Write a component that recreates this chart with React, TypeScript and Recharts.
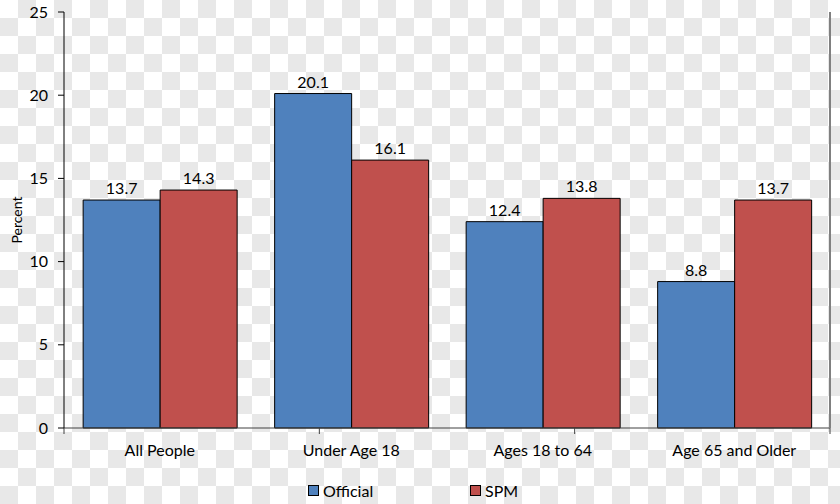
import { Bar, BarChart, LabelList, Legend, ReferenceArea, ReferenceLine, XAxis, YAxis } from "recharts";

const groups = ["All People", "Under Age 18", "Ages 18 to 64", "Age 65 and Older"];
const official = [13.7, 20.1, 12.4, 8.8];
const spm = [14.3, 16.1, 13.8, 13.7];
const yTicks = [0, 5, 10, 15, 20, 25];
const groupEdges = [0, 1, 2, 3, 4];

const data = groups.map((group, i) => ({ group, official: official[i], spm: spm[i] }));

const BLUE = "#4F81BD";
const RED = "#C0504D";
const FONT = "Lato, 'Open Sans', sans-serif";

const tickStyle = { fill: "#000", fontSize: 16, fontFamily: FONT };

// small outward tick at each category boundary, like Excel
function EdgeTick(props: any) {
	const { x1, y1, y2 } = props;
	const bottom = Math.max(y1, y2);
	return <line x1={x1} x2={x1} y1={bottom} y2={bottom + 6} stroke="#404040" strokeWidth={1} />;
}

// transparent-png checkerboard drawn behind the whole chart
function Checker() {
	const cells = [];
	for (let r = 0; r < 28; r++) {
		for (let c = 0; c < 47; c++) {
			if ((r + c) % 2 === 1) cells.push(<rect key={`${r}-${c}`} x={c * 18} y={r * 18} width={18} height={18} fill="#e8e8e8" />);
		}
	}
	return <g>{cells}</g>;
}

function LegendBox() {
	const item = (color: string, text: string, left: number) => (
		<div style={{ position: "absolute", left, top: 5, display: "flex", alignItems: "center" }}>
			<span
				style={{
					display: "inline-block",
					width: 9,
					height: 9,
					background: color,
					border: "1px solid #000",
					marginRight: 4,
				}}
			/>
			<span style={{ fontFamily: FONT, fontSize: 16, color: "#000" }}>{text}</span>
		</div>
	);
	return (
		<div style={{ position: "relative", width: 840, height: 28 }}>
			{item(BLUE, "Official", 308)}
			{item(RED, "SPM", 470)}
		</div>
	);
}

export default function App() {
	return (
		<div style={{ position: "absolute", left: 0, top: 0, width: 840, height: 504, background: "#ffffff" }}>
			<BarChart
				width={840}
				height={504}
				data={data}
				margin={{ top: 12, right: 0, left: 0, bottom: 0 }}
				barCategoryGap="10%"
				barGap={0}
			>
				<ReferenceArea
					xAxisId="edges"
					x1={0}
					x2={4}
					y1={0}
					y2={25}
					ifOverflow="visible"
					shape={() => <Checker />}
				/>
				<XAxis
					dataKey="group"
					height={48}
					tickLine={false}
					tickMargin={11}
					axisLine={{ stroke: "#404040" }}
					tick={tickStyle}
					interval={0}
				/>
				<XAxis xAxisId="edges" type="number" domain={[0, 4]} hide />
				<YAxis
					width={64}
					domain={[0, 25]}
					ticks={yTicks}
					tickSize={6}
					tickMargin={10}
					tickLine={{ stroke: "#000" }}
					axisLine={{ stroke: "#000" }}
					tick={tickStyle}
					label={({ viewBox }: any) => (
						<text
							x={16}
							y={viewBox.y + viewBox.height / 2}
							transform={`rotate(-90, 16, ${viewBox.y + viewBox.height / 2})`}
							textAnchor="middle"
							dominantBaseline="central"
							style={{ fontFamily: FONT, fontSize: 14, fill: "#000" }}
						>
							Percent
						</text>
					)}
				/>
				<YAxis
					yAxisId="r"
					orientation="right"
					width={10}
					domain={[0, 25]}
					tick={false}
					tickLine={false}
					axisLine={{ stroke: "#808080", strokeWidth: 2 }}
				/>
				<ReferenceLine yAxisId="r" y={25} stroke="#000" strokeWidth={1.5} />
				{groupEdges.map((e) => (
					<ReferenceLine key={e} xAxisId="edges" x={e} shape={<EdgeTick />} />
				))}
				<Legend verticalAlign="bottom" height={28} content={() => <LegendBox />} />
				<Bar dataKey="official" name="Official" fill={BLUE} stroke="#000" strokeWidth={1} isAnimationActive={false}>
					<LabelList dataKey="official" position="top" offset={6} style={{ fontFamily: FONT, fontSize: 16, fill: "#000" }} />
				</Bar>
				<Bar dataKey="spm" name="SPM" fill={RED} stroke="#000" strokeWidth={1} isAnimationActive={false}>
					<LabelList dataKey="spm" position="top" offset={6} style={{ fontFamily: FONT, fontSize: 16, fill: "#000" }} />
				</Bar>
			</BarChart>
		</div>
	);
}
